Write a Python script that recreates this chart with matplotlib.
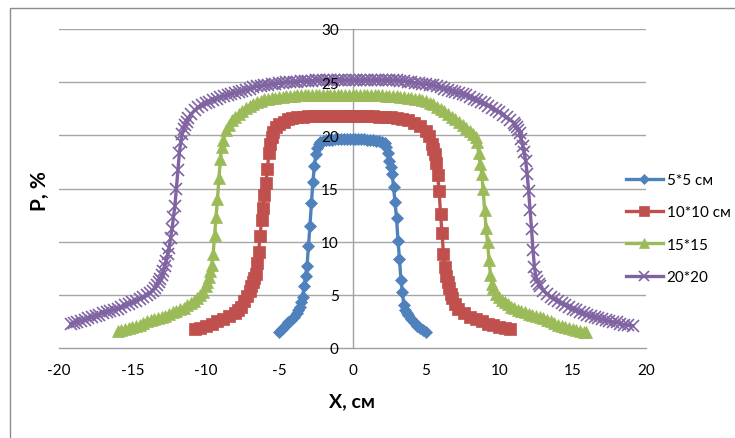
import matplotlib
matplotlib.use("Agg")
import matplotlib.pyplot as plt
from matplotlib.patches import Rectangle

# ---- data (x, cm ; P, %) ----
labels = ["5*5 см", "10*10 см", "15*15", "20*20"]

pts_5 = [(-5.0,1.5),(-4.8,1.8),(-4.6,2.1),(-4.4,2.4),(-4.2,2.6),(-4.0,2.9),(-3.8,3.3),(-3.7,3.6),
         (-3.6,3.9),(-3.5,4.3),(-3.4,4.8),(-3.3,5.8),(-3.2,6.8),(-3.1,7.7),(-3.0,9.6),(-2.9,11.5),
         (-2.8,13.6),(-2.7,15.6),(-2.6,17.1),(-2.5,18.2),(-2.4,18.8),(-2.3,19.2),(-2.2,19.4),
         (-2.0,19.5),(-1.8,19.6),(-1.6,19.6),(-1.4,19.6),(-1.2,19.7),(-1.0,19.7),(-0.8,19.7),
         (-0.6,19.7),(-0.4,19.7),(-0.2,19.7),(0.0,19.7),(0.2,19.7),(0.4,19.7),(0.6,19.7),(0.8,19.7),
         (1.0,19.6),(1.2,19.6),(1.4,19.6),(1.6,19.5),(1.8,19.5),(2.0,19.4),(2.2,19.3),(2.3,18.9),
         (2.4,18.3),(2.5,17.6),(2.6,17.0),(2.7,16.4),(2.8,15.1),(2.9,13.7),(3.0,12.2),(3.1,10.1),
         (3.2,8.4),(3.3,6.4),(3.4,5.3),(3.5,4.0),(3.6,3.6),(3.7,3.3),(3.8,3.1),(4.0,2.7),(4.2,2.4),
         (4.4,2.1),(4.6,1.9),(4.8,1.7),(5.0,1.5)]

pts_10 = [(-10.7,1.8),(-10.4,1.9),(-10.0,2.1),(-9.6,2.3),(-9.2,2.5),(-8.8,2.7),(-8.4,3.0),(-8.0,3.3),
          (-7.8,3.6),(-7.6,3.9),(-7.4,4.4),(-7.2,4.9),(-7.0,5.4),(-6.9,5.8),(-6.8,6.2),(-6.7,6.6),
          (-6.6,7.0),(-6.5,8.0),(-6.4,9.0),(-6.3,10.5),(-6.2,12.0),(-6.1,13.2),(-6.0,14.4),(-5.9,15.5),
          (-5.8,16.8),(-5.7,18.3),(-5.6,19.2),(-5.5,19.8),(-5.4,20.3),(-5.2,20.8),(-5.0,21.1),
          (-4.7,21.3),(-4.4,21.5),(-4.1,21.6),(-3.8,21.7),(-3.4,21.7),(-3.0,21.8),(-2.6,21.8),
          (-2.2,21.8),(-1.8,21.8),(-1.4,21.8),(-1.0,21.8),(-0.6,21.8),(-0.2,21.8),(0.2,21.8),
          (0.6,21.8),(1.0,21.8),(1.4,21.8),(1.8,21.7),(2.2,21.7),(2.6,21.7),(3.0,21.6),(3.4,21.5),
          (3.8,21.4),(4.2,21.2),(4.6,20.9),(5.0,20.4),(5.2,19.9),(5.4,19.2),(5.5,18.7),(5.6,18.2),
          (5.7,17.4),(5.8,16.3),(5.9,14.8),(6.0,12.6),(6.1,10.8),(6.2,8.8),(6.3,7.6),(6.4,6.8),
          (6.5,6.2),(6.6,5.6),(6.7,5.1),(6.8,4.7),(7.0,4.1),(7.2,3.7),(7.6,3.3),(8.0,2.9),(8.4,2.7),
          (8.8,2.5),(9.2,2.3),(9.6,2.2),(10.0,2.0),(10.4,1.9),(10.7,1.8)]

pts_15 = [(-16.0,1.6),(-15.75,1.7),(-15.5,1.8),(-15.25,1.9),(-15.0,2.0),(-14.75,2.1),(-14.5,2.2),
          (-14.25,2.35),(-14.0,2.5),(-13.75,2.6),(-13.5,2.7),(-13.25,2.8),(-13.0,2.9),(-12.75,3.05),
          (-12.5,3.2),(-12.25,3.35),(-12.0,3.5),(-11.75,3.65),(-11.5,3.8),(-11.25,4.0),(-11.0,4.2),
          (-10.8,4.45),(-10.6,4.7),(-10.4,5.0),(-10.2,5.3),(-10.0,5.8),(-9.9,6.2),(-9.8,6.7),
          (-9.7,7.2),(-9.6,7.8),(-9.5,8.8),(-9.4,10.6),(-9.3,12.3),(-9.2,14.0),(-9.1,16.0),
          (-9.0,17.8),(-8.9,18.9),(-8.8,19.6),(-8.6,20.5),(-8.4,21.0),(-8.2,21.4),(-8.0,21.7),
          (-7.75,22.0),(-7.5,22.3),(-7.25,22.55),(-7.0,22.8),(-6.75,22.95),(-6.5,23.1),(-6.25,23.25),
          (-6.0,23.4),(-5.75,23.45),(-5.5,23.5),(-5.25,23.55),(-5.0,23.6),(-4.75,23.65),(-4.5,23.7),
          (-4.25,23.7),(-4.0,23.7),(-3.75,23.75),(-3.5,23.8),(-3.25,23.8),(-3.0,23.8),(-2.75,23.8),
          (-2.5,23.8),(-2.25,23.8),(-2.0,23.8),(-1.75,23.8),(-1.5,23.8),(-1.25,23.8),(-1.0,23.8),
          (-0.75,23.8),(-0.5,23.8),(-0.25,23.8),(0.0,23.8),(0.25,23.8),(0.5,23.8),(0.75,23.8),
          (1.0,23.8),(1.25,23.8),(1.5,23.8),(1.75,23.8),(2.0,23.75),(2.25,23.7),(2.5,23.7),
          (2.75,23.7),(3.0,23.7),(3.25,23.65),(3.5,23.6),(3.75,23.55),(4.0,23.5),(4.25,23.45),
          (4.5,23.4),(4.75,23.3),(5.0,23.2),(5.25,23.05),(5.5,22.9),(5.75,22.7),(6.0,22.5),
          (6.25,22.25),(6.5,22.0),(6.75,21.75),(7.0,21.5),(7.25,21.25),(7.5,21.0),(7.75,20.7),
          (8.0,20.4),(8.2,20.1),(8.4,19.8),(8.5,19.4),(8.6,18.3),(8.7,17.3),(8.8,16.4),(8.9,15.0),
          (9.0,13.0),(9.1,11.3),(9.2,10.0),(9.3,8.3),(9.4,6.9),(9.5,6.0),(9.6,5.6),(9.8,5.1),
          (10.0,4.8),(10.2,4.55),(10.4,4.3),(10.6,4.1),(10.8,3.9),(11.0,3.75),(11.25,3.6),
          (11.5,3.45),(11.75,3.35),(12.0,3.2),(12.25,3.1),(12.5,3.0),(12.75,2.9),(13.0,2.8),
          (13.25,2.65),(13.5,2.5),(13.75,2.35),(14.0,2.2),(14.25,2.1),(14.5,2.0),(14.75,1.9),
          (15.0,1.8),(15.25,1.7),(15.5,1.6),(15.75,1.55),(15.9,1.5)]

pts_20 = [(-19.2,2.3),(-19.0,2.35),(-18.75,2.45),(-18.5,2.55),(-18.25,2.65),(-18.0,2.8),
          (-17.75,2.9),(-17.5,3.05),(-17.25,3.15),(-17.0,3.3),(-16.75,3.4),(-16.5,3.5),(-16.25,3.6),
          (-16.0,3.7),(-15.75,3.85),(-15.5,4.0),(-15.25,4.15),(-15.0,4.3),(-14.75,4.45),(-14.5,4.6),
          (-14.25,4.8),(-14.0,5.0),(-13.8,5.2),(-13.6,5.4),(-13.45,5.65),(-13.3,5.9),(-13.2,6.2),
          (-13.1,6.5),(-13.0,6.85),(-12.9,7.2),(-12.8,7.7),(-12.7,8.2),(-12.6,8.8),(-12.5,9.4),
          (-12.4,10.3),(-12.3,11.2),(-12.2,12.3),(-12.1,13.4),(-12.0,15.0),(-11.9,16.7),
          (-11.8,18.3),(-11.7,19.4),(-11.6,20.1),(-11.5,20.6),(-11.4,21.0),(-11.3,21.3),
          (-11.2,21.6),(-11.0,22.0),(-10.75,22.35),(-10.5,22.7),(-10.25,22.85),(-10.0,23.0),
          (-9.75,23.15),(-9.5,23.3),(-9.25,23.45),(-9.0,23.6),(-8.75,23.7),(-8.5,23.8),(-8.25,23.9),
          (-8.0,24.0),(-7.75,24.1),(-7.5,24.2),(-7.25,24.3),(-7.0,24.4),(-6.75,24.5),(-6.5,24.6),
          (-6.25,24.65),(-6.0,24.7),(-5.75,24.75),(-5.5,24.8),(-5.25,24.85),(-5.0,24.9),
          (-4.75,24.95),(-4.5,25.0),(-4.25,25.0),(-4.0,25.0),(-3.75,25.05),(-3.5,25.1),
          (-3.25,25.1),(-3.0,25.1),(-2.75,25.15),(-2.5,25.2),(-2.25,25.2),(-2.0,25.2),(-1.75,25.2),
          (-1.5,25.2),(-1.25,25.2),(-1.0,25.2),(-0.75,25.2),(-0.5,25.2),(-0.25,25.2),(0.0,25.2),
          (0.25,25.2),(0.5,25.2),(0.75,25.2),(1.0,25.2),(1.25,25.2),(1.5,25.2),(1.75,25.2),
          (2.0,25.2),(2.25,25.2),(2.5,25.2),(2.75,25.2),(3.0,25.2),(3.25,25.15),(3.5,25.1),
          (3.75,25.05),(4.0,25.0),(4.25,24.95),(4.5,24.9),(4.75,24.85),(5.0,24.8),(5.25,24.75),
          (5.5,24.7),(5.75,24.6),(6.0,24.5),(6.25,24.4),(6.5,24.3),(6.75,24.2),(7.0,24.1),
          (7.25,24.0),(7.5,23.9),(7.75,23.75),(8.0,23.6),(8.25,23.45),(8.5,23.3),(8.75,23.15),
          (9.0,23.0),(9.25,22.8),(9.5,22.6),(9.75,22.4),(10.0,22.2),(10.25,21.95),(10.5,21.7),
          (10.75,21.45),(11.0,21.2),(11.1,21.0),(11.2,20.8),(11.3,20.5),(11.4,20.2),(11.5,19.7),
          (11.6,19.0),(11.7,18.4),(11.8,17.6),(11.9,16.4),(12.0,14.8),(12.1,13.0),(12.2,11.2),
          (12.3,9.2),(12.4,7.6),(12.5,6.7),(12.6,6.3),(12.7,6.0),(12.8,5.8),(13.0,5.4),(13.25,5.1),
          (13.5,4.8),(13.75,4.6),(14.0,4.4),(14.25,4.2),(14.5,4.0),(14.75,3.85),(15.0,3.7),
          (15.25,3.55),(15.5,3.4),(15.75,3.25),(16.0,3.1),(16.25,3.0),(16.5,2.9),(16.75,2.8),
          (17.0,2.7),(17.25,2.6),(17.5,2.5),(17.75,2.45),(18.0,2.4),(18.25,2.3),(18.5,2.2),
          (18.75,2.15),(19.1,2.1)]

x_ticks = [-20, -15, -10, -5, 0, 5, 10, 15, 20]
y_ticks = [0, 5, 10, 15, 20, 25, 30]

series = [pts_5, pts_10, pts_15, pts_20]
colors = ["#4F81BD", "#C0504D", "#9BBB59", "#8064A2"]
markers = ["D", "s", "^", "x"]
msizes = [6.2, 8.0, 8.5, 8.5]

plt.rcParams['font.family'] = ['Lato', 'DejaVu Sans']

W, H = 735, 439
fig = plt.figure(figsize=(W / 100, H / 100), dpi=100)
ax = fig.add_axes([59 / W, 1 - 349 / H, (646 - 59) / W, (349 - 30) / H])

# outer chart border
fig.patches.append(Rectangle((10 / W, -0.1), 1.2, 1 - 9 / H + 0.1, transform=fig.transFigure,
                             fill=False, edgecolor="#8C8C8C", linewidth=1.0))

# horizontal gridlines behind the curves
for yv in y_ticks[1:]:
    ax.axhline(yv, color="#A6A6A6", linewidth=1.0, zorder=0.5)

for pts, c, m, ms, lab in zip(series, colors, markers, msizes, labels):
    xs = [p[0] for p in pts]
    ys = [p[1] for p in pts]
    ax.plot(xs, ys, color=c, linewidth=2.4, marker=m, markersize=ms,
            markerfacecolor=c, markeredgecolor=c, markeredgewidth=1.2 if m == "x" else 0.5,
            label=lab, zorder=2)

ax.set_xlim(-20, 20)
ax.set_ylim(0, 30)
ax.set_xticks(x_ticks)
ax.set_yticks(y_ticks)
ax.set_xticklabels([str(v) for v in x_ticks])
ax.set_yticklabels([str(v) for v in y_ticks])

for s in ["top", "right"]:
    ax.spines[s].set_visible(False)
ax.spines["left"].set_position(("data", 0))
ax.spines["left"].set_color("#A0A0A0")
ax.spines["bottom"].set_color("#A0A0A0")
ax.spines["left"].set_linewidth(1.0)
ax.spines["bottom"].set_linewidth(1.0)
ax.spines["left"].set_zorder(1)
ax.spines["bottom"].set_zorder(1)
ax.yaxis.set_zorder(5)
ax.xaxis.set_zorder(5)

ax.tick_params(axis="both", length=0, labelsize=11, colors="#000000")
ax.tick_params(axis="x", pad=11)
ax.tick_params(axis="y", pad=10)

fig.text(352 / W, 1 - 402 / H, "X, см", ha="center", va="center", fontsize=14, fontweight="bold")
fig.text(40 / W, 1 - 191 / H, "P, %", ha="center", va="center", fontsize=15, fontweight="bold",
         rotation=90)

leg = fig.legend(loc="upper left", bbox_to_anchor=(620 / W, 1 - 168 / H), frameon=False,
                 fontsize=11, handlelength=2.4, handletextpad=0.25, labelspacing=1.2,
                 borderaxespad=0, markerscale=0.85)

fig.savefig("out.png", dpi=100)
